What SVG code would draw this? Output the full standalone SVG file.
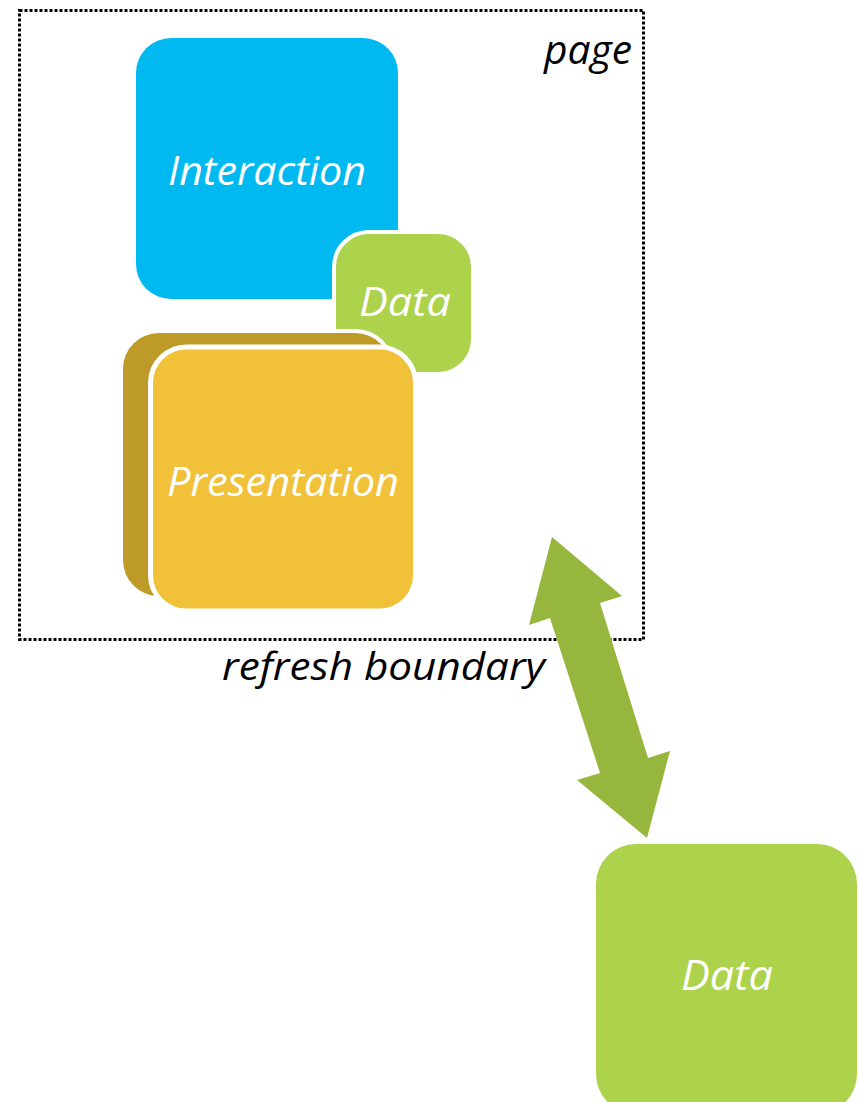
<svg xmlns="http://www.w3.org/2000/svg" width="859" height="1102" viewBox="0 0 859 1102">
<style>
.lbl{font-family:"Open Sans","Liberation Sans",sans-serif;font-style:italic;fill:#fff;text-anchor:middle}
.blk{font-family:"Open Sans","Liberation Sans",sans-serif;font-style:italic;fill:#000}
</style>
<rect width="859" height="1102" fill="#fff"/>
<g id="page">
<rect x="19.5" y="10.5" width="624" height="629" fill="none" stroke="#000" stroke-width="3" stroke-dasharray="3,2"/>
<text class="blk" x="632" y="64" font-size="40" text-anchor="end" textLength="88" lengthAdjust="spacingAndGlyphs">page</text>
<text class="blk" x="222" y="680" font-size="38" textLength="323" lengthAdjust="spacingAndGlyphs">refresh boundary</text>
</g>
<g id="interaction">
<rect x="136" y="38" width="262" height="261" rx="35" fill="#00B9F1"/>
<text class="lbl" x="267" y="185" font-size="40" textLength="198" lengthAdjust="spacingAndGlyphs">Interaction</text>
</g>
<g id="data-small">
<rect x="334" y="232" width="139" height="142" rx="35" fill="#ADD24B" stroke="#fff" stroke-width="4"/>
<text class="lbl" x="405" y="316" font-size="40" textLength="92" lengthAdjust="spacingAndGlyphs">Data</text>
</g>
<g id="presentation">
<rect x="121" y="331" width="272" height="267" rx="38" fill="#BE9A29" stroke="#fff" stroke-width="4"/>
<rect x="150.5" y="347" width="265" height="264" rx="36" fill="#F0C139" stroke="#fff" stroke-width="5"/>
<text class="lbl" x="283" y="496" font-size="40" textLength="232" lengthAdjust="spacingAndGlyphs">Presentation</text>
</g>
<g id="connectors">
<polygon points="552,537 622,596 600,603 648,758 670,751 647,838 577,780 600,773 550,618 529,625" fill="#97B63E"/>
</g>
<g id="data-store">
<rect x="596" y="844" width="261" height="270" rx="40" fill="#ADD24B"/>
<text class="lbl" x="727" y="990" font-size="42" textLength="92" lengthAdjust="spacingAndGlyphs">Data</text>
</g>
</svg>
